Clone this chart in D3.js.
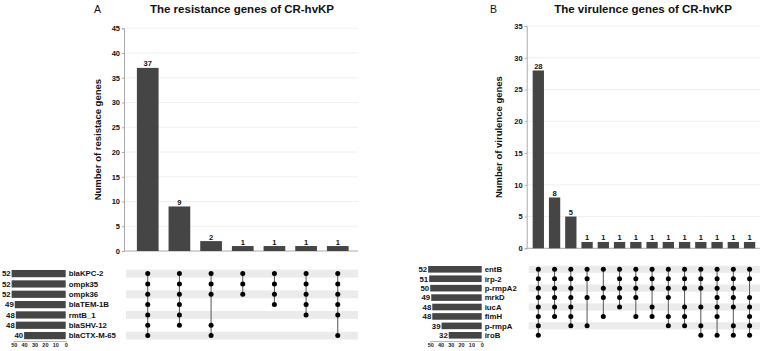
<!DOCTYPE html>
<html>
<head>
<meta charset="utf-8">
<script src="https://cdn.jsdelivr.net/npm/d3@7"></script>
<style>
  body { margin: 0; background: #fff; }
  svg { font-family: "Liberation Sans", Arial, sans-serif; }
</style>
</head>
<body>
<div id="chart"></div>
<script>
// panel A - resistance genes
var resGenes = ["blaKPC-2", "ompk35", "ompk36", "blaTEM-1B", "rmtB_1", "blaSHV-12", "blaCTX-M-65"];
var resSetSizes = [52, 52, 52, 49, 48, 48, 40];
var resCounts = [37, 9, 2, 1, 1, 1, 1];
var resSets = [
  ["blaKPC-2", "ompk35", "ompk36", "blaTEM-1B", "rmtB_1", "blaSHV-12", "blaCTX-M-65"],
  ["blaKPC-2", "ompk35", "ompk36", "blaTEM-1B", "rmtB_1", "blaSHV-12"],
  ["blaKPC-2", "ompk35", "ompk36", "blaSHV-12", "blaCTX-M-65"],
  ["blaKPC-2", "ompk35", "ompk36"],
  ["blaKPC-2", "ompk35", "ompk36", "blaTEM-1B"],
  ["blaKPC-2", "ompk35", "ompk36", "blaTEM-1B", "rmtB_1"],
  ["blaKPC-2", "ompk35", "ompk36", "blaTEM-1B", "rmtB_1", "blaCTX-M-65"]
];
var resTicks = [0, 5, 10, 15, 20, 25, 30, 35, 40, 45];

// panel B - virulence genes
var virGenes = ["entB", "irp-2", "p-rmpA2", "mrkD", "iucA", "fimH", "p-rmpA", "iroB"];
var virSetSizes = [52, 51, 50, 49, 48, 48, 39, 32];
var virCounts = [28, 8, 5, 1, 1, 1, 1, 1, 1, 1, 1, 1, 1, 1];
var virSets = [
  ["entB", "irp-2", "p-rmpA2", "mrkD", "iucA", "fimH", "p-rmpA", "iroB"],
  ["entB", "irp-2", "p-rmpA2", "mrkD", "iucA", "fimH"],
  ["entB", "irp-2", "p-rmpA2", "mrkD", "iucA", "fimH", "p-rmpA"],
  ["entB", "irp-2", "mrkD", "p-rmpA"],
  ["entB", "p-rmpA2", "mrkD", "fimH"],
  ["entB", "irp-2", "p-rmpA2", "mrkD", "iucA"],
  ["entB", "irp-2", "p-rmpA2", "mrkD", "fimH"],
  ["entB", "irp-2", "p-rmpA2", "iucA", "fimH"],
  ["entB", "irp-2", "p-rmpA2", "mrkD", "fimH", "p-rmpA"],
  ["entB", "irp-2", "p-rmpA2", "iucA", "fimH", "p-rmpA"],
  ["entB", "irp-2", "p-rmpA2", "iucA", "p-rmpA", "iroB"],
  ["entB", "irp-2", "p-rmpA2", "mrkD", "iucA", "fimH", "iroB"],
  ["entB", "irp-2", "p-rmpA2", "mrkD", "iucA", "p-rmpA", "iroB"],
  ["entB", "irp-2", "mrkD", "iucA", "fimH", "p-rmpA", "iroB"]
];
var virTicks = [0, 5, 10, 15, 20, 25, 30, 35];

var setTicks = [0, 10, 20, 30, 40, 50];

var svg = d3.select("#chart").append("svg").attr("width", 760).attr("height", 351);

function drawPanel(o) {
  var g = svg.append("g");
  var idx = d3.range(o.counts.length);

  var x = d3.scaleBand().domain(idx).range([o.x0, o.x1])
      .paddingInner(o.pad).paddingOuter(o.pad / 2);
  var y = d3.scaleLinear().domain([0, o.ymax]).range([o.yBottom, o.yTop]);

  // gridlines
  g.selectAll(".grid").data(o.ticks.slice(1)).enter().append("line")
      .attr("x1", o.axisX).attr("x2", o.axisEnd)
      .attr("y1", function(d){ return y(d); }).attr("y2", function(d){ return y(d); })
      .attr("stroke", "#ececec").attr("stroke-width", 0.8);

  var yAxis = g.append("g").attr("transform", "translate(" + o.axisX + ",0)")
      .call(d3.axisLeft(y).tickValues(o.ticks).tickSize(2).tickPadding(2));
  yAxis.select(".domain").attr("stroke", "#aaa");
  yAxis.selectAll(".tick line").attr("stroke", "#aaa");
  yAxis.selectAll("text").attr("font-size", 7.5).attr("font-weight", "bold").attr("fill", "#111");

  g.append("line").attr("x1", o.axisX).attr("x2", o.axisEnd)
      .attr("y1", o.yBottom).attr("y2", o.yBottom).attr("stroke", "#aaa");

  g.selectAll(".bar").data(o.counts).enter().append("rect")
      .attr("x", function(d, i){ return x(i); })
      .attr("y", function(d){ return y(d); })
      .attr("width", x.bandwidth())
      .attr("height", function(d){ return o.yBottom - y(d); })
      .attr("fill", "#454545");

  g.selectAll(".lbl").data(o.counts).enter().append("text")
      .attr("x", function(d, i){ return x(i) + x.bandwidth() / 2; })
      .attr("y", function(d){ return y(d) - 1.5; })
      .attr("text-anchor", "middle").attr("font-size", 7.5).attr("font-weight", "bold")
      .attr("fill", "#111")
      .text(function(d){ return d; });

  g.append("text")
      .attr("transform", "translate(" + o.ylabX + "," + ((o.yTop + o.yBottom) / 2) + ") rotate(-90)")
      .attr("text-anchor", "middle").attr("font-size", 9.5).attr("font-weight", "bold")
      .attr("fill", "#111")
      .text(o.ylabel);

  g.append("text").attr("x", o.titleX).attr("y", 13)
      .attr("text-anchor", "middle").attr("font-size", 11.5).attr("font-weight", "bold")
      .attr("fill", "#111").text(o.title);
  g.append("text").attr("x", o.letterX).attr("y", 13)
      .attr("font-size", 10.5).attr("fill", "#111").text(o.letter);

  // matrix
  var ry = d3.scalePoint().domain(o.genes).range([o.rowTop, o.rowBottom]);
  var rowH = (o.rowBottom - o.rowTop) / (o.genes.length - 1);

  g.selectAll(".band").data(o.genes.filter(function(d, i){ return i % 2 == 0; }))
      .enter().append("rect")
      .attr("x", o.axisX + 2).attr("width", o.axisEnd - o.axisX - 2)
      .attr("y", function(d){ return ry(d) - rowH * 0.38; })
      .attr("height", rowH * 0.76)
      .attr("fill", "#ebebeb");

  o.sets.forEach(function(s, i) {
    var cx = x(i) + x.bandwidth() / 2;
    var ys = s.map(function(d){ return ry(d); });
    if (ys.length > 1) {
      g.append("line").attr("x1", cx).attr("x2", cx)
          .attr("y1", d3.min(ys)).attr("y2", d3.max(ys))
          .attr("stroke", "#555").attr("stroke-width", 1);
    }
    g.selectAll(".dot" + i).data(s).enter().append("circle")
        .attr("cx", cx).attr("cy", function(d){ return ry(d); })
        .attr("r", 2.5).attr("fill", "#000");
  });

  // set size bars
  var sx = d3.scaleLinear().domain([0, 50]).range([o.setRight, o.setLeft50]);
  var bh = rowH * 0.7;
  g.selectAll(".sbar").data(o.setSizes).enter().append("rect")
      .attr("x", function(d){ return sx(d); })
      .attr("y", function(d, i){ return ry(o.genes[i]) - bh / 2; })
      .attr("width", function(d){ return o.setRight - sx(d); })
      .attr("height", bh)
      .attr("fill", "#454545");
  g.selectAll(".slbl").data(o.setSizes).enter().append("text")
      .attr("x", function(d){ return sx(d) - 1; })
      .attr("y", function(d, i){ return ry(o.genes[i]) + 2.8; })
      .attr("text-anchor", "end").attr("font-size", 7.8).attr("font-weight", "bold")
      .attr("fill", "#111").text(function(d){ return d; });
  g.selectAll(".gname").data(o.genes).enter().append("text")
      .attr("x", o.setRight + 3)
      .attr("y", function(d){ return ry(d) + 2.8; })
      .attr("font-size", 7.8).attr("font-weight", "bold")
      .attr("fill", "#111").text(function(d){ return d; });

  var sAxis = g.append("g").attr("transform", "translate(0," + o.setAxisY + ")")
      .call(d3.axisBottom(sx).tickValues(setTicks).tickSize(1.5).tickPadding(1));
  sAxis.select(".domain").attr("stroke", "#bbb");
  sAxis.selectAll(".tick line").attr("stroke", "#bbb");
  sAxis.selectAll("text").attr("font-size", 5.5).attr("font-weight", "bold").attr("fill", "#222");
}

drawPanel({
  genes: resGenes, setSizes: resSetSizes, counts: resCounts, sets: resSets, ticks: resTicks,
  ymax: 45, yTop: 28.3, yBottom: 251, axisX: 124, axisEnd: 358,
  x0: 131.9, x1: 353.6, pad: 0.315,
  ylabel: "Number of resistace genes", ylabX: 101,
  title: "The resistance genes of CR-hvKP", titleX: 242, letter: "A", letterX: 94,
  rowTop: 273.6, rowBottom: 335.6,
  setRight: 65.7, setLeft50: 13.7, setAxisY: 341
});

drawPanel({
  genes: virGenes, setSizes: virSetSizes, counts: virCounts, sets: virSets, ticks: virTicks,
  ymax: 35, yTop: 26, yBottom: 248.3, axisX: 526.7, axisEnd: 760,
  x0: 530.2, x1: 757.7, pad: 0.305,
  ylabel: "Number of virulence genes", ylabX: 502,
  title: "The virulence genes of CR-hvKP", titleX: 643, letter: "B", letterX: 490,
  rowTop: 269.3, rowBottom: 335.3,
  setRight: 481.7, setLeft50: 430.2, setAxisY: 341
});
</script>
</body>
</html>
